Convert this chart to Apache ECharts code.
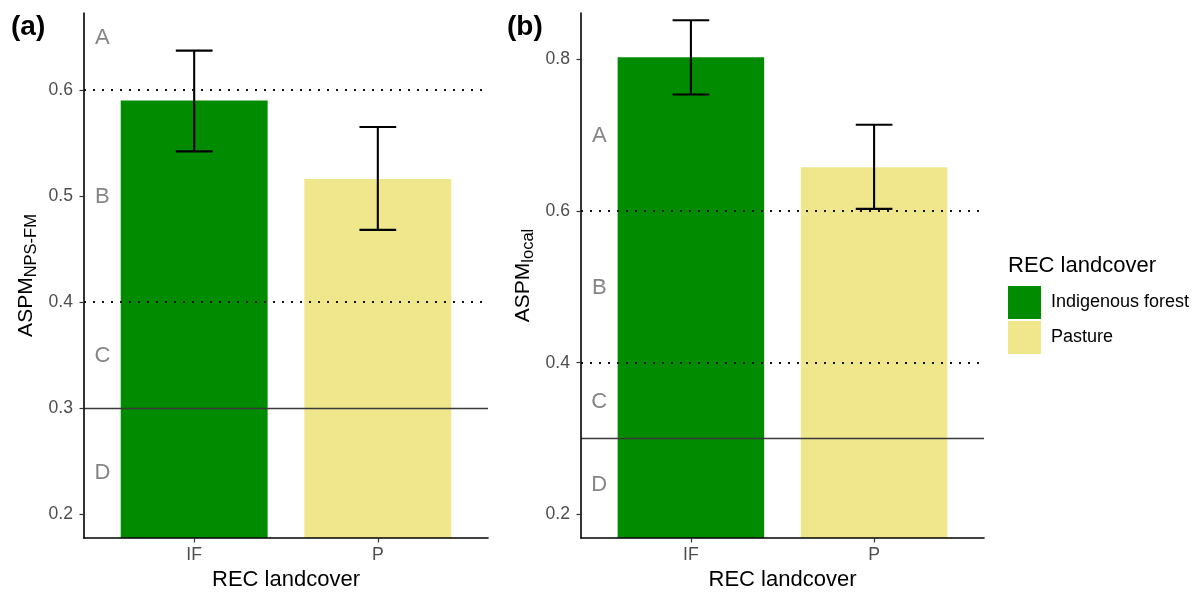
<!DOCTYPE html>
<html>
<head>
<meta charset="utf-8">
<title>ASPM by REC landcover</title>
<script src="https://cdn.jsdelivr.net/npm/echarts@6/dist/echarts.min.js"></script>
<style>
  html, body { margin: 0; padding: 0; background: #fff; }
  #chart { width: 1204px; height: 592px; }
</style>
</head>
<body>
<div id="chart"></div>
<script>
// Categories and legend names
const categories = ['IF', 'P'];
const landcoverNames = ['Indigenous forest', 'Pasture'];

// Panel (a): ASPM NPS-FM means and error bar limits
const npsFmMean = [0.590, 0.516];
const npsFmLow  = [0.542, 0.468];
const npsFmHigh = [0.637, 0.565];

// Panel (b): ASPM local means and error bar limits
const localMean = [0.803, 0.658];
const localLow  = [0.754, 0.603];
const localHigh = [0.852, 0.714];

// Grade bands: dotted boundaries, solid bottom line, band letters
const npsFmDotted = [0.6, 0.4];
const localDotted = [0.6, 0.4];
const solidLine = 0.3;
const gradeLetters = ['A', 'B', 'C', 'D'];
const npsFmLetterY = [0.65, 0.50, 0.35, 0.24];
const localLetterY = [0.70, 0.50, 0.35, 0.24];
const letterX = 0.5;

// Tick values
const npsFmTicks = [0.2, 0.3, 0.4, 0.5, 0.6];
const localTicks = [0.2, 0.4, 0.6, 0.8];
const catTicks = [1, 2];

const FONT = '"Liberation Sans", Arial, Helvetica, sans-serif';
const GREEN = '#008B00';
const KHAKI = '#F0E68C';

const grids = [
  { left: 84, top: 13, width: 404, height: 525, containLabel: false, outerBoundsMode: 'none' },
  { left: 581, top: 13, width: 403, height: 525, containLabel: false, outerBoundsMode: 'none' }
];

function xAxisFor(i) {
  return {
    type: 'value', gridIndex: i, min: 0.4, max: 2.6, z: 5,
    name: 'REC landcover', nameLocation: 'middle', nameGap: 30,
    nameTextStyle: { fontFamily: FONT, fontSize: 22, color: '#000' },
    axisLine: { show: true, lineStyle: { color: '#000', width: 1.6 } },
    axisTick: { show: true, customValues: catTicks, length: 4.5, lineStyle: { color: '#333', width: 1.2 } },
    axisLabel: {
      show: true, customValues: catTicks, margin: 8,
      fontFamily: FONT, fontSize: 17.6, color: '#4D4D4D',
      formatter: v => categories[Math.round(v) - 1] || ''
    },
    splitLine: { show: false }
  };
}

function yAxisFor(i, min, max, ticks, name) {
  return {
    type: 'value', gridIndex: i, min: min, max: max, z: 5,
    name: name, nameLocation: 'middle', nameGap: 44, nameRotate: 90,
    nameTextStyle: {
      fontFamily: FONT, color: '#000',
      rich: {
        m: { fontFamily: FONT, fontSize: 21, color: '#000', lineHeight: 28, verticalAlign: 'middle' },
        s: { fontFamily: FONT, fontSize: 16.5, color: '#000', lineHeight: 28, verticalAlign: 'bottom' }
      }
    },
    axisLine: { show: true, lineStyle: { color: '#000', width: 1.6 } },
    axisTick: { show: true, customValues: ticks, length: 4.5, lineStyle: { color: '#333', width: 1.2 } },
    axisLabel: {
      show: true, customValues: ticks, margin: 11,
      fontFamily: FONT, fontSize: 17.6, color: '#4D4D4D',
      formatter: v => v.toFixed(1)
    },
    splitLine: { show: false }
  };
}

function barSeries(i, k, values, withLines, dotted) {
  const s = {
    type: 'bar', name: landcoverNames[k], xAxisIndex: i, yAxisIndex: i,
    data: [[k + 1, values[k]]],
    barWidth: 0.8 * grids[i].width / 2.2,
    barGap: '-100%',
    itemStyle: { color: k === 0 ? GREEN : KHAKI },
    emphasis: { disabled: true },
    silent: true
  };
  if (withLines) {
    s.markLine = {
      silent: true, symbol: 'none', animation: false,
      label: { show: false },
      data: dotted.map(v => ({
        yAxis: v, lineStyle: { color: '#111', width: 2, type: [2, 7] }
      })).concat([{ yAxis: solidLine, lineStyle: { color: '#3a3a3a', width: 1.4, type: 'solid' } }])
    };
  }
  return s;
}

function errorSeries(i, low, high) {
  return {
    type: 'custom', xAxisIndex: i, yAxisIndex: i, silent: true, z: 4,
    data: categories.map((c, k) => [k + 1, low[k], high[k]]),
    renderItem(params, api) {
      const x = api.value(0);
      const top = api.coord([x, api.value(2)]);
      const bot = api.coord([x, api.value(1)]);
      const hw = api.size([0.1, 0])[0];
      const st = { stroke: '#000', lineWidth: 2.1, fill: null };
      return {
        type: 'group',
        children: [
          { type: 'line', shape: { x1: top[0] - hw, y1: top[1], x2: top[0] + hw, y2: top[1] }, style: st },
          { type: 'line', shape: { x1: top[0], y1: top[1], x2: bot[0], y2: bot[1] }, style: st },
          { type: 'line', shape: { x1: bot[0] - hw, y1: bot[1], x2: bot[0] + hw, y2: bot[1] }, style: st }
        ]
      };
    }
  };
}

function letterSeries(i, ys) {
  return {
    type: 'custom', xAxisIndex: i, yAxisIndex: i, silent: true, z: 4,
    data: ys.map(y => [letterX, y]),
    renderItem(params, api) {
      const p = api.coord([api.value(0), api.value(1)]);
      return {
        type: 'text', x: p[0], y: p[1] + 1,
        style: {
          text: gradeLetters[params.dataIndex],
          fill: '#858585', fontSize: 22, fontFamily: FONT,
          align: 'center', verticalAlign: 'middle',
          textAlign: 'center', textVerticalAlign: 'middle'
        }
      };
    }
  };
}

const chart = echarts.init(document.getElementById('chart'), null, { renderer: 'canvas' });

chart.setOption({
  animation: false,
  backgroundColor: '#fff',
  title: [
    { text: '(a)', left: 11, top: 13, padding: 0, textStyle: { fontFamily: FONT, fontSize: 28, fontWeight: 'bold', color: '#000' } },
    { text: '(b)', left: 507, top: 13, padding: 0, textStyle: { fontFamily: FONT, fontSize: 28, fontWeight: 'bold', color: '#000' } },
    { text: 'REC landcover', left: 1008, top: 255, padding: 0, textStyle: { fontFamily: FONT, fontSize: 22, fontWeight: 'normal', color: '#000' } }
  ],
  legend: {
    orient: 'vertical', left: 1008, top: 286, padding: 0,
    data: landcoverNames,
    icon: 'rect', itemWidth: 33, itemHeight: 33, itemGap: 2,
    selectedMode: false,
    textStyle: { fontFamily: FONT, fontSize: 18, color: '#000', padding: [0, 0, 0, 5] }
  },
  grid: grids,
  xAxis: [xAxisFor(0), xAxisFor(1)],
  yAxis: [
    yAxisFor(0, 0.1775, 0.6725, npsFmTicks, '{m|ASPM}{s|NPS-FM}'),
    yAxisFor(1, 0.1687, 0.8615, localTicks, '{m|ASPM}{s|local}')
  ],
  series: [
    barSeries(0, 0, npsFmMean, false),
    barSeries(0, 1, npsFmMean, true, npsFmDotted),
    errorSeries(0, npsFmLow, npsFmHigh),
    letterSeries(0, npsFmLetterY),
    barSeries(1, 0, localMean, false),
    barSeries(1, 1, localMean, true, localDotted),
    errorSeries(1, localLow, localHigh),
    letterSeries(1, localLetterY)
  ]
});
</script>
</body>
</html>
